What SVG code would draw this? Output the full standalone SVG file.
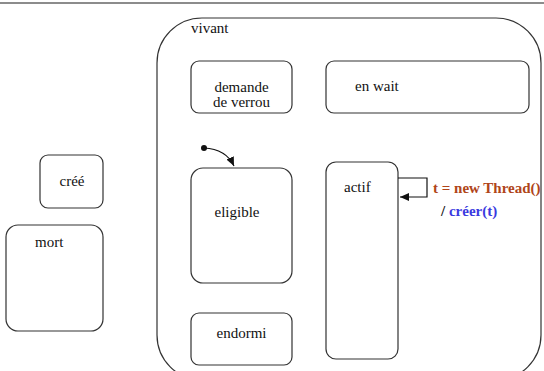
<svg xmlns="http://www.w3.org/2000/svg" width="544" height="371" viewBox="0 0 544 371">
<defs>
<style>
.st{fill:#fff;stroke:#333;stroke-width:1.2}
.t{fill:#111}
.c{fill:none;stroke:#111;stroke-width:1.2}
</style>
<marker id="ah" markerWidth="10" markerHeight="8" refX="9" refY="4" orient="auto" markerUnits="userSpaceOnUse">
<path d="M0,0 L9,4 L0,8 Z" fill="#111"/>
</marker>
</defs>
<rect width="544" height="371" fill="#fff"/>
<line x1="0" y1="3" x2="544" y2="3" stroke="#666" stroke-width="1.5"/>
<g id="vivant">
<rect class="st" x="157" y="18" width="384" height="362" rx="45" ry="45"/>
<text class="t" x="191" y="33" font-size="15" font-family="Liberation Serif">vivant</text>
</g>
<g id="demande">
<rect class="st" x="191" y="61" width="101" height="52" rx="8"/>
<text class="t" x="241.5" y="92" text-anchor="middle" font-size="15" font-family="Liberation Serif">demande</text>
<text class="t" x="241.5" y="107" text-anchor="middle" font-size="15" font-family="Liberation Serif">de verrou</text>
</g>
<g id="enwait">
<rect class="st" x="326" y="61" width="203" height="52" rx="8"/>
<text class="t" x="355" y="91" font-size="15" font-family="Liberation Serif">en wait</text>
</g>
<g id="cree">
<rect class="st" x="40" y="155" width="63" height="53" rx="8"/>
<text class="t" x="72" y="186" text-anchor="middle" font-size="15" font-family="Liberation Serif">créé</text>
</g>
<g id="mort">
<rect class="st" x="6" y="225" width="97" height="106" rx="12"/>
<text class="t" x="35" y="247" font-size="15" font-family="Liberation Serif">mort</text>
</g>
<g id="eligible">
<rect class="st" x="191" y="168" width="101" height="115" rx="12"/>
<text class="t" x="237" y="217" text-anchor="middle" font-size="15" font-family="Liberation Serif">eligible</text>
</g>
<g id="actif">
<rect class="st" x="326" y="162" width="72" height="197" rx="10"/>
<text class="t" x="344" y="192" font-size="15" font-family="Liberation Serif">actif</text>
</g>
<g id="endormi">
<rect class="st" x="191" y="313" width="101" height="52" rx="8"/>
<text class="t" x="241.5" y="338" text-anchor="middle" font-size="15" font-family="Liberation Serif">endormi</text>
</g>
<g id="connectors">
<circle cx="204" cy="148" r="3" fill="#111"/>
<path class="c" d="M204,148 Q226,149 234,166" marker-end="url(#ah)"/>
<path class="c" d="M398,178 L427,178 L427,197 L400,197" marker-end="url(#ah)"/>
<text x="433" y="193" fill="#b0451a" font-weight="bold" font-size="15" font-family="Liberation Serif">t = new Thread()</text>
<text x="441" y="216" font-weight="bold" font-size="15" font-family="Liberation Serif"><tspan fill="#111">/ </tspan><tspan fill="#3a3ae0">créer(t)</tspan></text>
</g>
</svg>
